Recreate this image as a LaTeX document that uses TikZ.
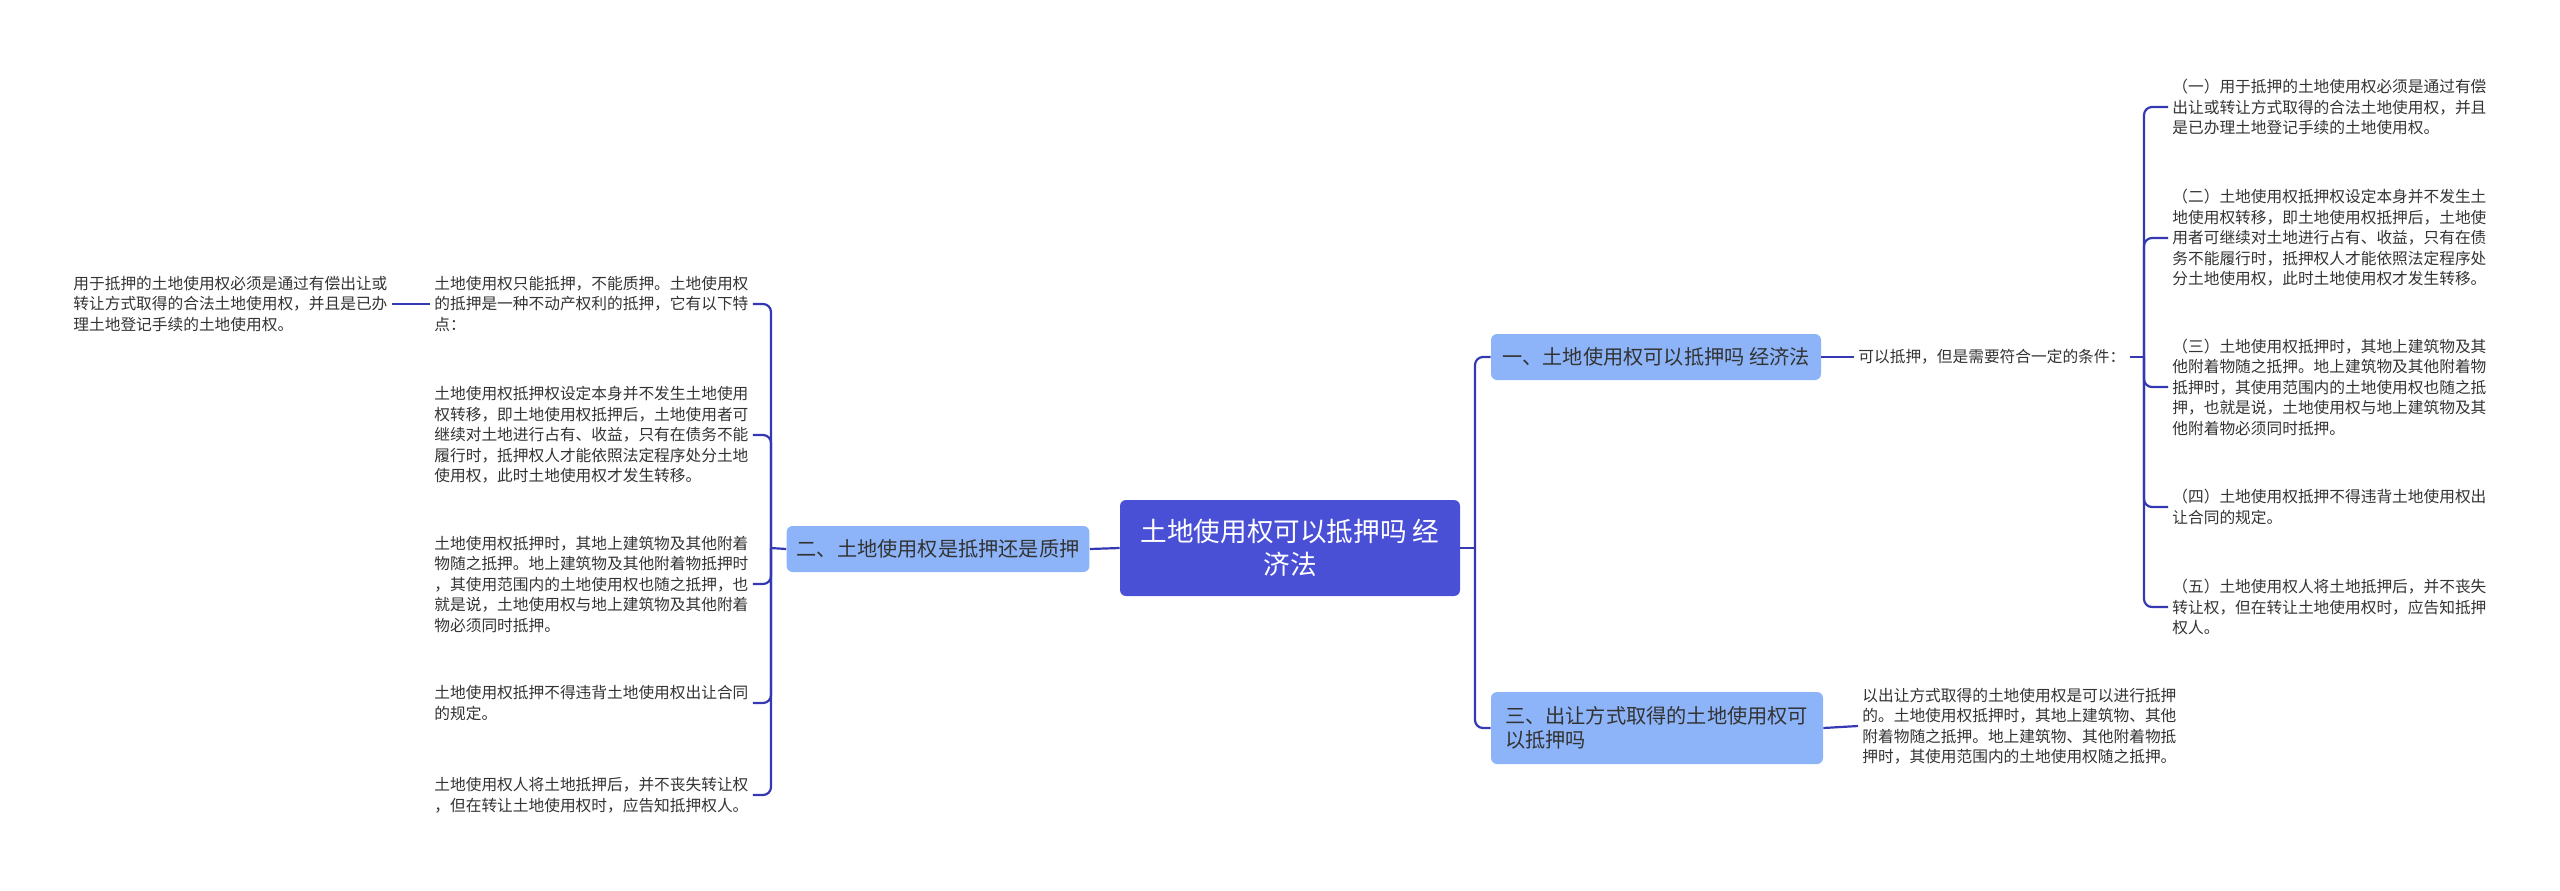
\documentclass[tikz,border=0pt]{standalone}
\usepackage{fontspec}
\setmainfont{Noto Sans CJK SC}
\definecolor{rootc}{HTML}{4A50D6}
\definecolor{topicc}{HTML}{8DB4F8}
\definecolor{linec}{HTML}{3438B3}
\definecolor{textc}{HTML}{333333}
\begin{document}
\begin{tikzpicture}[x=0.5pt, y=-0.5pt,
    line/.style={draw=linec, line width=1.1pt},
    root/.style={fill=rootc, rounded corners=3pt, text=white, font=\fontsize{13.3}{16.7}\selectfont, minimum width=170pt, minimum height=48pt, align=center},
    topic/.style={fill=topicc, rounded corners=3pt, text=textc, font=\fontsize{10.1}{12.25}\selectfont, minimum height=23pt, inner xsep=5pt},
    leaf/.style={text=textc, font=\fontsize{7.85}{10.25}\selectfont, align=left, text width=157pt, inner sep=2pt}]
    \useasboundingbox (0,0) rectangle (2560,890);

    % Root and main topics
    \node[root] (root) at (1290,548) {土地使用权可以抵押吗 经\\济法};
    \node[topic, minimum width=151pt] (t2) at (938,549) {二、土地使用权是抵押还是质押};
    \node[topic, minimum width=165pt] (t1) at (1656,357) {一、土地使用权可以抵押吗 经济法};
    \node[topic, text width=152pt, align=left, inner xsep=7pt, minimum height=36pt] (t3) at (1657,728) {三、出让方式取得的土地使用权可\\以抵押吗};

    % Left side leaves
    \node[leaf, anchor=west] (l1) at (430,304) {土地使用权只能抵押，不能质押。土地使用权\\的抵押是一种不动产权利的抵押，它有以下特\\点：};
    \node[leaf, anchor=west] (l2) at (430,435) {土地使用权抵押权设定本身并不发生土地使用\\权转移，即土地使用权抵押后，土地使用者可\\继续对土地进行占有、收益，只有在债务不能\\履行时，抵押权人才能依照法定程序处分土地\\使用权，此时土地使用权才发生转移。};
    \node[leaf, anchor=west] (l3) at (430,584) {土地使用权抵押时，其地上建筑物及其他附着\\物随之抵押。地上建筑物及其他附着物抵押时\\，其使用范围内的土地使用权也随之抵押，也\\就是说，土地使用权与地上建筑物及其他附着\\物必须同时抵押。};
    \node[leaf, anchor=west] (l4) at (430,703) {土地使用权抵押不得违背土地使用权出让合同\\的规定。};
    \node[leaf, anchor=west] (l5) at (430,795) {土地使用权人将土地抵押后，并不丧失转让权\\，但在转让土地使用权时，应告知抵押权人。};
    \node[leaf, anchor=west] (l0) at (69,304) {用于抵押的土地使用权必须是通过有偿出让或\\转让方式取得的合法土地使用权，并且是已办\\理土地登记手续的土地使用权。};

    % Right side leaves
    \node[leaf, anchor=west, text width=] (c1) at (1854,357) {可以抵押，但是需要符合一定的条件：};
    \node[leaf, anchor=west] (r1) at (2168,107) {（一）用于抵押的土地使用权必须是通过有偿\\出让或转让方式取得的合法土地使用权，并且\\是已办理土地登记手续的土地使用权。};
    \node[leaf, anchor=west] (r2) at (2168,238) {（二）土地使用权抵押权设定本身并不发生土\\地使用权转移，即土地使用权抵押后，土地使\\用者可继续对土地进行占有、收益，只有在债\\务不能履行时，抵押权人才能依照法定程序处\\分土地使用权，此时土地使用权才发生转移。};
    \node[leaf, anchor=west] (r3) at (2168,387) {（三）土地使用权抵押时，其地上建筑物及其\\他附着物随之抵押。地上建筑物及其他附着物\\抵押时，其使用范围内的土地使用权也随之抵\\押，也就是说，土地使用权与地上建筑物及其\\他附着物必须同时抵押。};
    \node[leaf, anchor=west] (r4) at (2168,507) {（四）土地使用权抵押不得违背土地使用权出\\让合同的规定。};
    \node[leaf, anchor=west] (r5) at (2168,607) {（五）土地使用权人将土地抵押后，并不丧失\\转让权，但在转让土地使用权时，应告知抵押\\权人。};
    \node[leaf, anchor=west] (s3) at (1858,726) {以出让方式取得的土地使用权是可以进行抵押\\的。土地使用权抵押时，其地上建筑物、其他\\附着物随之抵押。地上建筑物、其他附着物抵\\押时，其使用范围内的土地使用权随之抵押。};

    % Trunk points
    \coordinate (rt) at (1475,548);
    \coordinate (lt) at (771,548);
    \coordinate (ct) at (2144,357);

    % Connectors
    \draw[line] (root.east) -- (rt);
    \draw[line] (root.west) -- (t2.east);
    \draw[line, rounded corners=4pt] (rt) |- (t1.west);
    \draw[line, rounded corners=4pt] (rt) |- (t3.west);
    \draw[line] (t2.west) -- (lt);
    \foreach \n in {l1,l2,l3,l4,l5}
        \draw[line, rounded corners=4pt] (lt) |- (\n.east);
    \draw[line] (l1.west) -- (l0.east);
    \draw[line] (t1.east) -- (c1.west);
    \draw[line] (c1.east) -- (ct);
    \foreach \n in {r1,r2,r3,r4,r5}
        \draw[line, rounded corners=4pt] (ct) |- (\n.west);
    \draw[line] (t3.east) -- (s3.west);
\end{tikzpicture}
\end{document}
